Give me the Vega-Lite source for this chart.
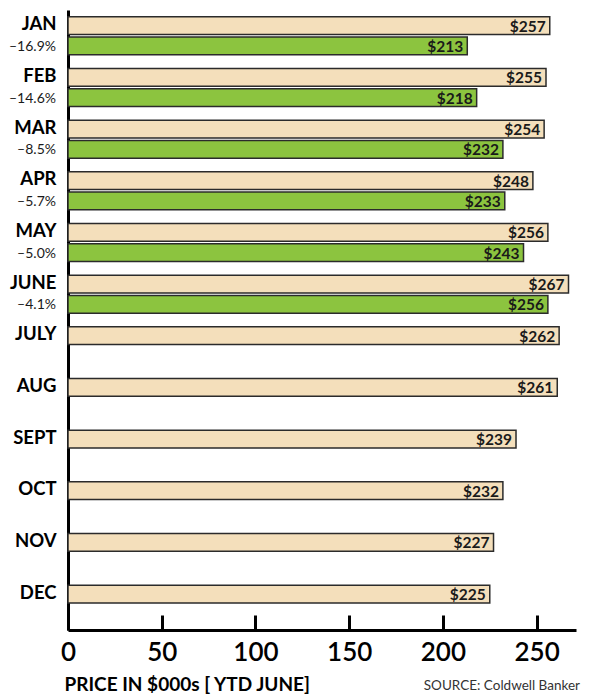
{
  "$schema": "https://vega.github.io/schema/vega-lite/v6.json",
  "width": 508,
  "height": 620,
  "autosize": {"type": "none"},
  "padding": {"left": 68, "top": 10, "right": 14, "bottom": 69},
  "background": "white",
  "config": {
    "view": {"stroke": null},
    "font": "Lato",
    "axis": {"grid": false}
  },
  "title": {
    "text": "SOURCE: Coldwell Banker",
    "orient": "bottom",
    "anchor": "end",
    "fontSize": 13.5,
    "fontWeight": "normal",
    "color": "#333",
    "dx": 4,
    "dy": -19
  },
  "data": {
    "values": [
      {"month": "JAN", "series": "prior", "value": 257},
      {"month": "JAN", "series": "current", "value": 213, "pct": "–16.9%"},
      {"month": "FEB", "series": "prior", "value": 255},
      {"month": "FEB", "series": "current", "value": 218, "pct": "–14.6%"},
      {"month": "MAR", "series": "prior", "value": 254},
      {"month": "MAR", "series": "current", "value": 232, "pct": "–8.5%"},
      {"month": "APR", "series": "prior", "value": 248},
      {"month": "APR", "series": "current", "value": 233, "pct": "–5.7%"},
      {"month": "MAY", "series": "prior", "value": 256},
      {"month": "MAY", "series": "current", "value": 243, "pct": "–5.0%"},
      {"month": "JUNE", "series": "prior", "value": 267},
      {"month": "JUNE", "series": "current", "value": 256, "pct": "–4.1%"},
      {"month": "JULY", "series": "prior", "value": 262},
      {"month": "AUG", "series": "prior", "value": 261},
      {"month": "SEPT", "series": "prior", "value": 239},
      {"month": "OCT", "series": "prior", "value": 232},
      {"month": "NOV", "series": "prior", "value": 227},
      {"month": "DEC", "series": "prior", "value": 225}
    ]
  },
  "encoding": {
    "y": {
      "field": "month",
      "type": "nominal",
      "sort": null,
      "scale": {"paddingInner": 0, "paddingOuter": 0},
      "axis": {
        "title": null,
        "domainColor": "black",
        "domainWidth": 3,
        "tickColor": "black",
        "tickWidth": 2.5,
        "tickSize": -14,
        "tickOffset": -3,
        "labelPadding": 26,
        "labelOffset": -9,
        "labelFontSize": 18.5,
        "labelFontWeight": "bold",
        "labelColor": "black",
        "labelBaseline": "middle"
      }
    },
    "yOffset": {
      "field": "series",
      "type": "nominal",
      "sort": ["prior", "current"],
      "scale": {"domain": ["prior", "current"], "paddingInner": 0.12, "paddingOuter": 0.34}
    }
  },
  "layer": [
    {
      "mark": {"type": "bar", "stroke": "#2b2b2b", "strokeWidth": 1.5, "cornerRadius": 0},
      "encoding": {
        "x": {
          "field": "value",
          "type": "quantitative",
          "scale": {"domain": [0, 271], "nice": false},
          "axis": {
            "values": [0, 50, 100, 150, 200, 250],
            "title": "PRICE IN $000s [ YTD JUNE]",
            "titleFontSize": 19,
            "titleFontWeight": "bold",
            "titleColor": "black",
            "titleAnchor": "start",
            "titleAlign": "left",
            "titleX": -4,
            "titleY": 54,
            "titleBaseline": "middle",
            "domainColor": "black",
            "domainWidth": 3,
            "tickColor": "black",
            "tickWidth": 3,
            "tickSize": -15,
            "labelPadding": 24,
            "labelFontSize": 26,
            "labelFontWeight": 600,
            "labelColor": "black",
            "labelFlush": false
          }
        },
        "color": {
          "field": "series",
          "type": "nominal",
          "scale": {"domain": ["prior", "current"], "range": ["#F4DFBB", "#8CC43F"]},
          "legend": null
        }
      }
    },
    {
      "mark": {"type": "text", "align": "right", "baseline": "middle", "dx": -4, "dy": 1, "fontSize": 15.5, "fontWeight": "bold", "color": "#1a1a1a"},
      "encoding": {
        "x": {"field": "value", "type": "quantitative"},
        "text": {"field": "value", "type": "quantitative", "format": "$d"}
      }
    },
    {
      "transform": [{"filter": "isValid(datum.pct)"}],
      "mark": {"type": "text", "align": "right", "baseline": "middle", "dx": -12, "dy": 1, "fontSize": 14, "color": "#1a1a1a"},
      "encoding": {
        "x": {"datum": 0, "type": "quantitative"},
        "text": {"field": "pct", "type": "nominal"}
      }
    }
  ]
}
